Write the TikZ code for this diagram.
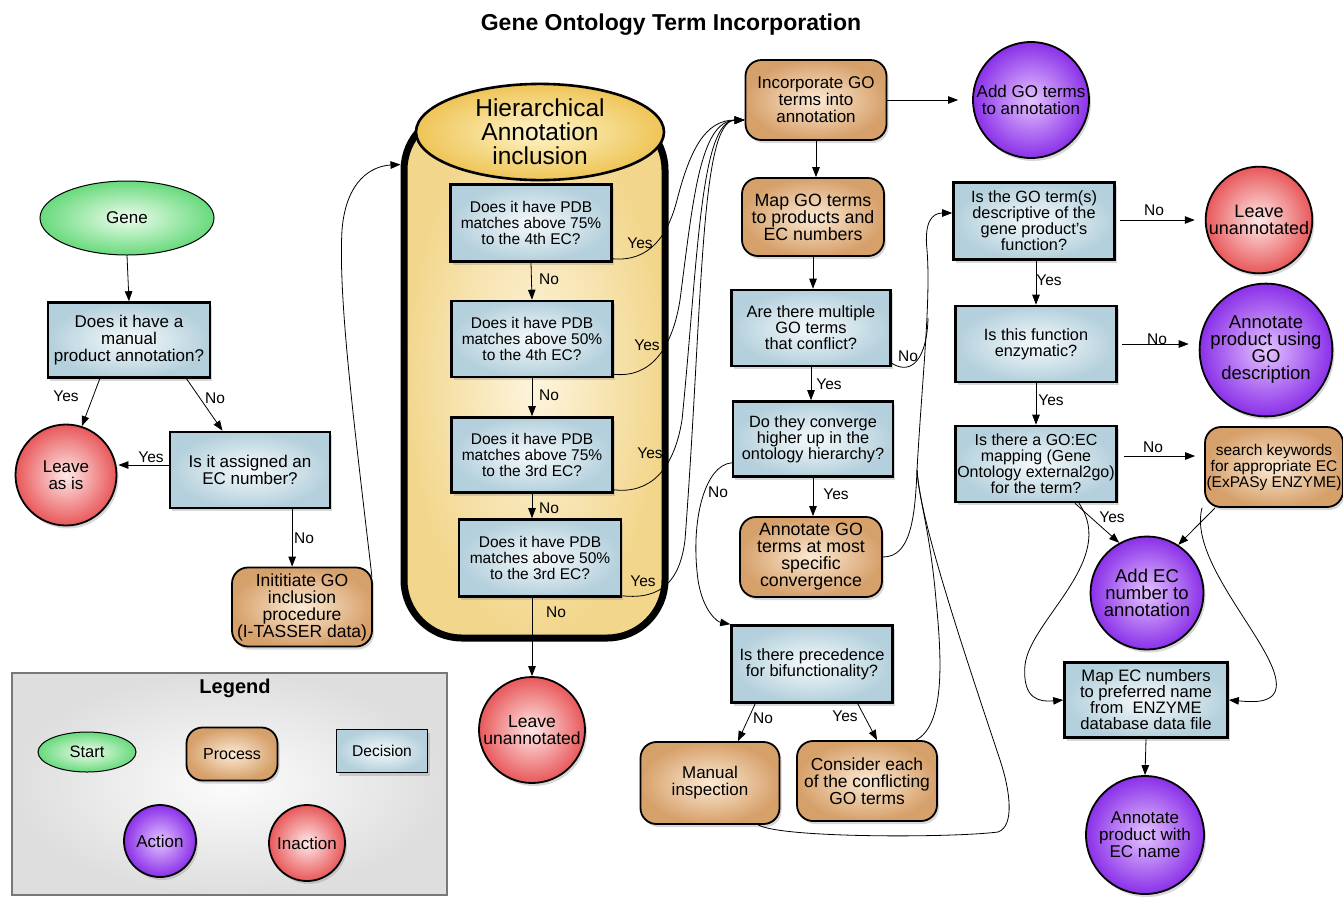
\documentclass[tikz,border=0pt]{standalone}
\usepackage{fontspec}
\setmainfont{Liberation Sans}
\usetikzlibrary{shapes.geometric,arrows.meta,shadows,calc}
\definecolor{decin}{RGB}{246,250,252}
\definecolor{decout}{RGB}{180,208,220}
\definecolor{procin}{RGB}{252,234,212}
\definecolor{procout}{RGB}{214,160,106}
\definecolor{actin}{RGB}{228,196,255}
\definecolor{actout}{RGB}{138,48,232}
\definecolor{inactin}{RGB}{255,232,232}
\definecolor{inactout}{RGB}{232,88,90}
\definecolor{startin}{RGB}{238,252,238}
\definecolor{startout}{RGB}{104,218,124}
\definecolor{hierin}{RGB}{253,245,222}
\definecolor{hierout}{RGB}{242,214,140}
\definecolor{headin}{RGB}{255,246,205}
\definecolor{headout}{RGB}{238,196,86}
\definecolor{legin}{RGB}{252,252,252}
\definecolor{legout}{RGB}{222,222,222}
\tikzset{
 base/.style={align=center, inner sep=1pt, text=black, font=\fontsize{17}{17}\selectfont},
 shad/.style={drop shadow={shadow xshift=2pt,shadow yshift=-3pt,opacity=.3}},
 dec/.style={base, rectangle, draw=black, line width=2.6pt, inner color=decin, outer color=decout, shad},
 proc/.style={base, rectangle, rounded corners=16pt, draw=black, line width=1.8pt, inner color=procin, outer color=procout, shad},
 act/.style={base, circle, draw=black, line width=1.8pt, inner color=actin, outer color=actout, shad},
 inact/.style={base, circle, draw=black, line width=1.8pt, inner color=inactin, outer color=inactout, shad},
 startn/.style={base, ellipse, draw=black, line width=1pt, inner color=startin, outer color=startout},
 conn/.style={draw=black, line width=0.8pt, -{Triangle[length=10pt,width=7.5pt]}},
 link/.style={draw=black, line width=0.8pt},
 lab/.style={inner sep=1pt, font=\fontsize{15.5}{15.5}\selectfont},
}
\begin{document}
\begin{tikzpicture}[x=1pt,y=-1pt]
\useasboundingbox[fill=white] (0,0) rectangle (1343,898);
\node[font=\bfseries\fontsize{23}{23}\selectfont] (title) at (671,25) {Gene Ontology Term Incorporation};

% legend
\node[draw={rgb,255:red,120;green,120;blue,120}, line width=1.5pt, minimum width=435pt, minimum height=222pt, inner color=legin, outer color=legout] (legend) at (229.5,784) {};
\node[font=\bfseries\fontsize{20}{20}\selectfont] (legt) at (235,688) {Legend};
\node[startn, minimum width=98pt, minimum height=40pt, font=\fontsize{16.5}{16.5}\selectfont] (lstart) at (87,752) {Start};
\node[proc, minimum width=91pt, minimum height=53pt, font=\fontsize{16}{16}\selectfont] (lproc) at (232,754) {Process};
\node[dec, minimum width=91pt, minimum height=43pt, line width=1.8pt, font=\fontsize{15.6}{15.6}\selectfont] (ldec) at (382,751) {Decision};
\node[act, minimum size=72pt] (lact) at (160,841) {Action};
\node[inact, minimum size=76pt] (linact) at (307,843) {Inaction};

% left column
\node[startn, minimum width=174pt, minimum height=74pt] (gene) at (127,218) {Gene};
\node[dec, minimum width=162pt, minimum height=75pt] (q1) at (129,340) {Does it have a\\manual\\product annotation?};
\node[inact, minimum size=101pt] (leave1) at (66,475) {Leave\\as is};
\node[dec, minimum width=160pt, minimum height=76pt] (q2) at (250,470) {Is it assigned an\\EC number?};
\node[proc, minimum width=140pt, minimum height=79pt, font=\fontsize{17.5}{17}\selectfont] (init) at (302,607) {Inititiate GO\\inclusion\\procedure\\(I-TASSER data)};

% hierarchical container
\node[draw=black, line width=7pt, rounded corners=58pt, minimum width=261pt, minimum height=526pt, inner color=hierin, outer color=hierout, shad] (hier) at (534.5,375) {};
\node[base, ellipse, draw=black, line width=2.6pt, minimum width=248pt, minimum height=88pt, inner color=headin, outer color=headout, font=\fontsize{24.5}{24}\selectfont] (head) at (540,132) {Hierarchical\\Annotation\\inclusion};
\node[dec, minimum width=161pt, minimum height=77pt, font=\fontsize{15.5}{16}\selectfont] (pdb1) at (531,223) {Does it have PDB\\matches above 75\%\\to the 4th EC?};
\node[dec, minimum width=161pt, minimum height=76pt, font=\fontsize{15.5}{16}\selectfont] (pdb2) at (532,339) {Does it have PDB\\matches above 50\%\\to the 4th EC?};
\node[dec, minimum width=161pt, minimum height=75pt, font=\fontsize{15.5}{16}\selectfont] (pdb3) at (532,455) {Does it have PDB\\matches above 75\%\\to the 3rd EC?};
\node[dec, minimum width=162pt, minimum height=77pt, font=\fontsize{15.5}{16}\selectfont] (pdb4) at (540,558) {Does it have PDB\\matches above 50\%\\to the 3rd EC?};
\node[inact, minimum size=106pt, font=\fontsize{17.5}{17}\selectfont] (leave2) at (532,730) {Leave\\unannotated};

% middle column
\node[proc, minimum width=141pt, minimum height=80pt] (incorp) at (816,100) {Incorporate GO\\terms into\\annotation};
\node[act, minimum size=116pt] (addgo) at (1031,100) {Add GO terms\\to annotation};
\node[proc, minimum width=142pt, minimum height=78pt, font=\fontsize{17.8}{17}\selectfont] (mapgo) at (813,217) {Map GO terms\\to products and\\EC numbers};
\node[dec, minimum width=159pt, minimum height=76pt, font=\fontsize{16.4}{16}\selectfont] (multi) at (811,328) {Are there multiple\\GO terms\\that conflict?};
\node[dec, minimum width=160pt, minimum height=75pt, font=\fontsize{16.3}{16}\selectfont] (conv) at (813,439) {Do they converge\\higher up in the\\ontology hierarchy?};
\node[proc, minimum width=142pt, minimum height=80pt, font=\fontsize{17.8}{17}\selectfont] (annspec) at (811,557) {Annotate GO\\terms at most\\specific\\convergence};
\node[dec, minimum width=161pt, minimum height=77pt, font=\fontsize{16.4}{16}\selectfont] (prec) at (812,664) {Is there precedence\\for bifunctionality?};
\node[proc, minimum width=139pt, minimum height=82pt] (manual) at (710,783) {Manual\\inspection};
\node[proc, minimum width=140pt, minimum height=80pt, font=\fontsize{17.4}{17}\selectfont] (consider) at (867,781) {Consider each\\of the conflicting\\GO terms};

% right column
\node[dec, minimum width=161pt, minimum height=77pt, font=\fontsize{16.3}{16}\selectfont] (desc) at (1034,221) {Is the GO term(s)\\descriptive of the\\gene product's\\function?};
\node[inact, minimum size=106pt, font=\fontsize{18}{17}\selectfont] (leave3) at (1259,220) {Leave\\unannotated};
\node[dec, minimum width=161pt, minimum height=76pt, font=\fontsize{16.3}{16}\selectfont] (enz) at (1036,344) {Is this function\\enzymatic?};
\node[act, minimum size=122pt, font=\fontsize{18.5}{17}\selectfont] (anngo) at (1266,350) {Annotate\\product using\\GO\\description};
\node[dec, minimum width=161pt, minimum height=76pt, font=\fontsize{16}{16}\selectfont] (goec) at (1036,464) {Is there a GO:EC\\mapping (Gene\\Ontology external2go)\\for the term?};
\node[proc, minimum width=138pt, minimum height=80pt, font=\fontsize{15.5}{16}\selectfont] (search) at (1274,467) {search keywords\\for appropriate EC\\(ExPASy ENZYME)};
\node[act, minimum size=113pt, font=\fontsize{18.5}{17}\selectfont] (addec) at (1147,593) {Add EC\\number to\\annotation};
\node[dec, minimum width=163pt, minimum height=75pt, font=\fontsize{16.6}{16}\selectfont] (mapec) at (1146,700) {Map EC numbers\\to preferred name\\from~ ENZYME\\database data file};
\node[act, minimum size=118pt] (annec) at (1145,835) {Annotate\\product with\\EC name};

% coordinates
\coordinate (hin) at ($(hier.north west)+(0,56)$);
\coordinate (incin) at ($(incorp.west)+(0,20)$);
\coordinate (descin) at ($(desc.west)+(0,-8)$);
\coordinate (mrg) at (917,470);

% left connectors
\draw[conn] (gene.south) -- (q1.north);
\draw[conn] (q1.233) -- (leave1.72);
\draw[conn] (q1.-34) -- (q2.125);
\draw[conn] ($(q2.west)+(0,-5)$) -- ($(leave1.east)+(1,-10)$);
\draw[conn] (q2.-43) -- (q2.-43 |- init.north);
\draw[conn] ($(init.north east)+(-1,10)$) .. controls (355,430) and (338,300) .. (342,230) .. controls (346,180) and (372,166) .. (hin);

% hierarchical connectors
\draw[conn] (pdb1.south) -- (pdb2.north);
\draw[conn] (pdb2.south) -- (pdb3.north);
\draw[conn] (pdb3.south) -- (pdb4.north -| pdb3.south);
\draw[conn] (pdb4.south -| leave2.north) -- (leave2.north);
\draw[conn] ($(pdb1.south east)+(0,-4)$) .. controls (650,262) and (668,235) .. (677,200) .. controls (690,150) and (705,120) .. (incin);
\draw[conn] ($(pdb2.south east)+(0,-4)$) .. controls (650,378) and (672,350) .. (680,300) .. controls (693,200) and (700,121) .. (incin);
\draw[conn] ($(pdb3.south east)+(0,-4)$) .. controls (650,494) and (674,470) .. (682,420) .. controls (698,260) and (700,121) .. (incin);
\draw[conn] ($(pdb4.south east)+(0,-2)$) .. controls (662,600) and (680,580) .. (685,540) .. controls (703,300) and (700,121) .. (incin);

% middle connectors
\draw[conn, shorten >=14pt] (incorp.east) -- (addgo.west);
\draw[conn] (incorp.south) -- (incorp.south |- mapgo.north);
\draw[conn] (mapgo.south) -- (mapgo.south |- multi.north);
\draw[conn] (multi.south) -- (multi.south |- conv.north);
\draw[conn] (conv.south) -- (conv.south |- annspec.north);
\draw[conn] ($(conv.south west)+(0,-15)$) .. controls (705,465) and (690,520) .. (698,580) .. controls (703,612) and (718,622) .. (prec.north west);
\draw[conn] ($(prec.south west)+(25,0)$) -- ($(manual.north)+(28,0)$);
\draw[conn] ($(prec.south east)+(-36,0)$) -- ($(consider.north)+(10,0)$);

% feedback to desc
\draw[conn] (mrg) .. controls (922,380) and (931,300) .. (927,250) .. controls (924,222) and (932,213) .. (descin);
\draw[link] ($(multi.south east)+(0,-4)$) .. controls (912,376) and (927,358) .. (928,318);
\draw[link] (annspec.east) .. controls (910,557) and (915,520) .. (mrg);
\draw[link] ($(consider.north east)+(-22,0)$) .. controls (945,725) and (942,660) .. (936,600) .. controls (930,530) and (919,500) .. (mrg);
\draw[link] ($(manual.south east)+(-22,0)$) .. controls (780,838) and (950,838) .. (998,832) .. controls (1015,826) and (1010,790) .. (1000,760) .. controls (960,640) and (920,520) .. (mrg);

% right connectors
\draw[conn, shorten <=4pt, shorten >=10pt] (desc.east |- leave3.west) -- (leave3.west);
\draw[conn] (desc.south -| enz.north) -- (enz.north);
\draw[conn, shorten <=4pt, shorten >=10pt] (enz.east) -- (enz.east -| anngo.west);
\draw[conn] (enz.south) -- (goec.north);
\draw[conn, shorten <=6pt, shorten >=9pt] ($(goec.east)+(0,-8)$) -- ($(search.west)+(0,-11)$);
\draw[conn] ($(goec.south)+(39,0)$) -- (addec.119);
\draw[conn] ($(search.south)+(-59,0)$) -- (addec.57);
\draw[conn] ($(goec.south)+(43,0)$) .. controls (1118,560) and (1030,620) .. (1025,665) .. controls (1022,700) and (1040,702) .. (mapec.west);
\draw[conn] ($(search.south)+(-72,0)$) .. controls (1188,560) and (1270,640) .. (1276,680) .. controls (1280,705) and (1252,702) .. (mapec.east);
\draw[conn] (mapec.south) -- (annec.north);

% labels
\node[lab] (y1) at (66,396) {Yes};
\node[lab] (n1) at (215,398) {No};
\node[lab] (y2) at (151,457) {Yes};
\node[lab] (n2) at (304,538) {No};
\node[lab] (n3) at (549,279) {No};
\node[lab] (n4) at (549,395) {No};
\node[lab] (n5) at (549,508) {No};
\node[lab] (n6) at (556,612) {No};
\node[lab] (y3) at (640,243) {Yes};
\node[lab] (y4) at (647,345) {Yes};
\node[lab] (y5) at (650,453) {Yes};
\node[lab] (y6) at (643,581) {Yes};
\node[lab] (n7) at (908,356) {No};
\node[lab] (y7) at (829,384) {Yes};
\node[lab] (y8) at (836,494) {Yes};
\node[lab] (n8) at (718,492) {No};
\node[lab] (n9) at (763,718) {No};
\node[lab] (y9) at (845,716) {Yes};
\node[lab] (n10) at (1154,210) {No};
\node[lab] (y10) at (1049,280) {Yes};
\node[lab] (n11) at (1157,339) {No};
\node[lab] (y11) at (1051,400) {Yes};
\node[lab] (n12) at (1153,447) {No};
\node[lab] (y12) at (1112,517) {Yes};
\end{tikzpicture}
\end{document}
